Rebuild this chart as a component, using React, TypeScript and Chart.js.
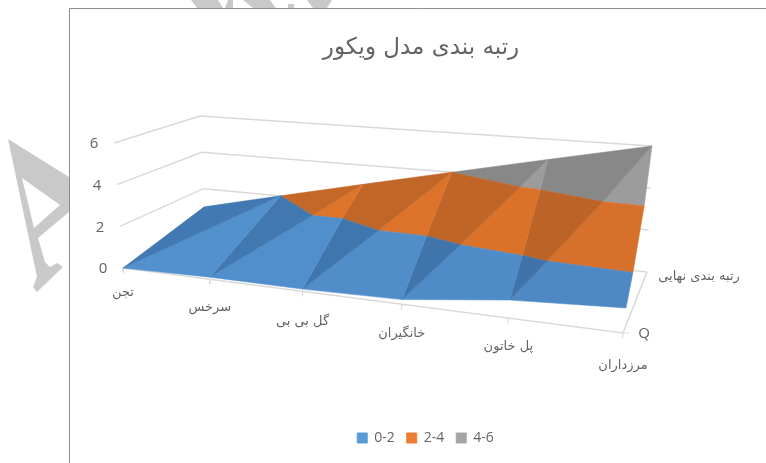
import React, { useEffect, useRef } from "react";
import { Chart, registerables } from "chart.js";

Chart.register(...registerables);

const categories = ["تجن", "سرخس", "گل بی بی", "خانگیران", "پل خاتون", "مرزداران"];
const seriesNames = ["Q", "رتبه بندی نهایی"];
const qValues = [0, 0.1, 0.1, 0.2, 0.75, 1];
const rankValues = [1, 2, 3, 4, 5, 6];
const valueTicks = [0, 2, 4, 6];
const bandNames = ["0-2", "2-4", "4-6"];
const bandLows = [0, 2, 4];
const title = "رتبه بندی مدل ویکور";

const W = 766;
const H = 463;
const legendColors = ["#5B9BD5", "#ED7D31", "#A5A5A5"];
const lightColors = [[82, 144, 206], [226, 118, 44], [156, 156, 156]];
const darkColors = [[66, 121, 178], [198, 105, 42], [136, 136, 136]];
const textColor = "#636363";
const gridColor = "#D9D9D9";
const persianFont = '13px "DejaVu Sans", "Liberation Sans", sans-serif';
const latinFont = '15px "Open Sans", sans-serif';

type V3 = { f: number; t: number; v: number };

const persp = (s: number) => s / (s + 1.19 * (1 - s));
const lerp = (a: number, b: number, k: number) => a + (b - a) * k;

function project({ f, t, v }: V3) {
  const k = v / 6;
  const fx0 = lerp(123, 623, f), fy0 = lerp(268, 333, f);
  const bx0 = lerp(205, 647, f), by0 = lerp(225, 272, f);
  const fx6 = lerp(114, 641, f), fy6 = lerp(143, 183, f);
  const bx6 = lerp(200, 652, f), by6 = lerp(116, 146, f);
  const x0 = lerp(fx0, bx0, t), y0 = lerp(fy0, by0, t);
  const x6 = lerp(fx6, bx6, t), y6 = lerp(fy6, by6, t);
  return { x: lerp(x0, x6, k), y: lerp(y0, y6, k) };
}

const at = (i: number, t: number, v: number) =>
  project({ f: persp(i / (categories.length - 1)), t, v });

function clipAt(poly: V3[], level: number, keepAbove: boolean): V3[] {
  const out: V3[] = [];
  poly.forEach((p, i) => {
    const q = poly[(i + 1) % poly.length];
    const pIn = keepAbove ? p.v >= level : p.v <= level;
    const qIn = keepAbove ? q.v >= level : q.v <= level;
    if (pIn) out.push(p);
    if (pIn !== qIn) {
      const k = (level - p.v) / (q.v - p.v);
      out.push({ f: lerp(p.f, q.f, k), t: lerp(p.t, q.t, k), v: level });
    }
  });
  return out;
}

function surfaceDatasets() {
  const sets: any[] = [];
  const n = categories.length - 1;
  for (let i = 0; i < n; i++) {
    const F0: V3 = { f: persp(i / n), t: 0, v: qValues[i] };
    const F1: V3 = { f: persp((i + 1) / n), t: 0, v: qValues[i + 1] };
    const B0: V3 = { f: persp(i / n), t: 1, v: rankValues[i] };
    const B1: V3 = { f: persp((i + 1) / n), t: 1, v: rankValues[i + 1] };
    const tris = [
      { pts: [F0, B0, B1], cols: darkColors },
      { pts: [F0, B1, F1], cols: lightColors },
    ];
    tris.forEach(({ pts, cols }) => {
      bandLows.forEach((lo, b) => {
        const poly = clipAt(clipAt(pts, lo, true), lo + 2, false);
        if (poly.length < 3) return;
        const shade = b === 2 ? 1 : 1 - 0.012 * i;
        const c = cols[b].map((x) => Math.round(x * shade));
        sets.push({
          label: "__surface",
          polygon: true,
          data: poly.map(project),
          backgroundColor: `rgb(${c.join(",")})`,
          borderWidth: 0,
          showLine: false,
          pointRadius: 0,
        });
      });
    });
  }
  return sets;
}

const lineSet = (data: { x: number; y: number }[], width = 1.5) => ({
  label: "__line",
  data,
  borderColor: gridColor,
  borderWidth: width,
  showLine: true,
  pointRadius: 0,
  fill: false,
});

function frameDatasets() {
  const last = categories.length - 1;
  const sets: any[] = [];
  valueTicks.forEach((v) => {
    if (v > 0) sets.push(lineSet([at(0, 0, v), at(0, 1, v), at(last, 1, v)]));
    else sets.push(lineSet([at(0, 1, 0), at(last, 1, 0)]));
  });
  sets.push(lineSet([at(0, 0, 0), at(last, 0, 0), at(last, 1, 0)]));
  categories.forEach((_, i) => sets.push(lineSet([at(i, 0, 0), at(i, 0, -0.22)], 1)));
  const q = at(last, 0, 0);
  sets.push(lineSet([q, { x: project({ f: 1.012, t: 0, v: 0 }).x, y: q.y }], 1));
  return sets;
}

const legendSets = bandNames.map((name, i) => ({
  label: name,
  data: [],
  backgroundColor: legendColors[i],
  borderColor: legendColors[i],
  pointStyle: "rect",
  pointRadius: 0,
}));

const catLabelDrop = [25, 28, 30, 29, 29, 33];

const watermarkShapes = [
  [[191, 0], [218, 0], [223, 8], [197, 8]],
  [[228, 0], [233, 0], [233, 8], [225, 8]],
  [[243, 0], [270, 0], [276, 8], [253, 8]],
  [[288, 4], [294, 4], [294, 8], [288, 8]],
  [[307, 0], [332, 0], [327, 8], [313, 8]],
];

const scenePlugin = {
  id: "scene",
  afterLayout(chart: any) {
    const a = chart.chartArea;
    a.left = 0; a.top = 0; a.right = W; a.bottom = H; a.width = W; a.height = H;
    ["x", "y"].forEach((id) => {
      const s = chart.scales[id];
      s.left = 0; s.right = W; s.top = 0; s.bottom = H; s.width = W; s.height = H;
      s.configure();
    });
    const t = chart.titleBlock;
    if (t) { const h = t.bottom - t.top; t.left = 76; t.right = W; t.top = 34; t.bottom = 34 + h; }
    const l = chart.legend;
    if (l) { const h = l.bottom - l.top; l.left = 85; l.right = W; l.top = 419; l.bottom = 419 + h; }
  },
  beforeDraw(chart: any) {
    const ctx = chart.ctx;
    ctx.save();
    ctx.fillStyle = "#ffffff";
    ctx.fillRect(0, 0, W, H);
    ctx.fillStyle = "#C9C9C9";
    ctx.beginPath();
    [[8, 139], [69, 177], [69, 212], [38, 238], [45, 262], [50, 267], [57, 263], [63, 267], [37, 292], [33, 287], [37, 277]]
      .forEach(([x, y], i) => (i ? ctx.lineTo(x, y) : ctx.moveTo(x, y)));
    ctx.closePath();
    [[22, 178], [60, 205], [34, 228]].forEach(([x, y], i) => (i ? ctx.lineTo(x, y) : ctx.moveTo(x, y)));
    ctx.closePath();
    ctx.fill("evenodd");
    watermarkShapes.forEach((poly) => {
      ctx.beginPath();
      poly.forEach(([x, y], i) => (i ? ctx.lineTo(x, y) : ctx.moveTo(x, y)));
      ctx.closePath();
      ctx.fill();
    });
    ctx.fillStyle = "#ffffff";
    ctx.fillRect(70, 9, W, H);
    ctx.strokeStyle = "#8C8C8C";
    ctx.lineWidth = 1;
    ctx.beginPath();
    ctx.moveTo(69.5, H);
    ctx.lineTo(69.5, 8.5);
    ctx.lineTo(W, 8.5);
    ctx.stroke();
    ctx.restore();
  },
  beforeDatasetDraw(chart: any, args: any) {
    const ds = chart.data.datasets[args.index];
    if (!ds.polygon) return;
    const pts = chart.getDatasetMeta(args.index).data;
    const ctx = chart.ctx;
    ctx.save();
    ctx.beginPath();
    pts.forEach((p: any, i: number) => (i ? ctx.lineTo(p.x, p.y) : ctx.moveTo(p.x, p.y)));
    ctx.closePath();
    ctx.fillStyle = ds.backgroundColor;
    ctx.strokeStyle = ds.backgroundColor;
    ctx.lineWidth = 0.5;
    ctx.fill();
    ctx.stroke();
    ctx.restore();
  },
  afterDraw(chart: any) {
    const ctx = chart.ctx;
    const { x: xs, y: ys } = chart.scales;
    const last = categories.length - 1;
    ctx.save();
    ctx.fillStyle = textColor;
    ctx.textAlign = "center";
    ctx.textBaseline = "middle";
    ctx.font = persianFont;
    categories.forEach((name, i) => {
      const p = at(i, 0, 0);
      ctx.fillText(name, xs.getPixelForValue(p.x), ys.getPixelForValue(p.y + catLabelDrop[i]));
    });
    const rank = at(last, 1, 0);
    ctx.fillText(seriesNames[1], xs.getPixelForValue(rank.x + 52), ys.getPixelForValue(rank.y + 5));
    ctx.font = latinFont;
    const q = at(last, 0, 0);
    ctx.fillText(seriesNames[0], xs.getPixelForValue(q.x + 21), ys.getPixelForValue(q.y + 1));
    valueTicks.forEach((v) => {
      const p = at(0, 0, v);
      ctx.fillText(String(v), xs.getPixelForValue(p.x - 20), ys.getPixelForValue(p.y + 1));
    });
    ctx.restore();
  },
};

export default function App() {
  const ref = useRef<HTMLCanvasElement>(null);
  useEffect(() => {
    document.body.style.margin = "0";
    const chart = new Chart(ref.current!, {
      type: "scatter",
      data: { datasets: [...legendSets, ...surfaceDatasets(), ...frameDatasets()] as any },
      options: {
        animation: false,
        responsive: false,
        events: [],
        scales: {
          x: { type: "linear", min: 0, max: W, display: false },
          y: { type: "linear", min: 0, max: H, reverse: true, display: false },
        },
        plugins: {
          tooltip: { enabled: false },
          title: {
            display: true,
            text: title,
            color: textColor,
            font: { family: '"DejaVu Sans", "Liberation Sans", sans-serif', size: 23, weight: "normal" },
            padding: 0,
          },
          legend: {
            display: true,
            position: "bottom",
            labels: {
              filter: (item: any) => !String(item.text).startsWith("__"),
              usePointStyle: false,
              boxWidth: 10,
              boxHeight: 10,
              padding: 12,
              color: textColor,
              font: { family: '"Open Sans", sans-serif', size: 14 },
            },
          },
        },
      } as any,
      plugins: [scenePlugin],
    });
    return () => chart.destroy();
  }, []);
  return <canvas ref={ref} width={W} height={H} style={{ display: "block" }} />;
}
